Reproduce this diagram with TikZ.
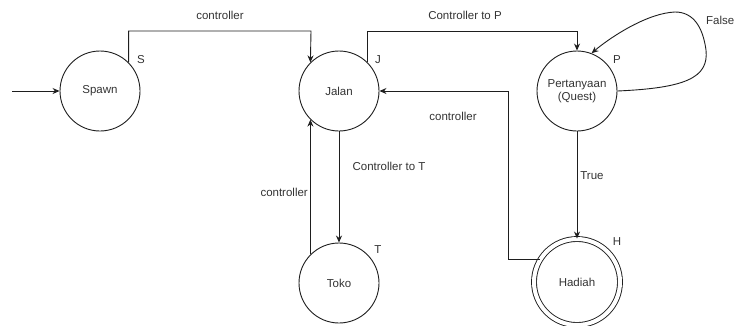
\documentclass[tikz,border=0pt]{standalone}
\usepackage{fontspec}
\setmainfont{Liberation Sans}
\usetikzlibrary{arrows.meta,calc}
\definecolor{txt}{RGB}{51,51,51}
\definecolor{ln}{RGB}{30,30,30}
\begin{document}
\begin{tikzpicture}[x=1pt,y=-1pt,
  every node/.style={font=\fontsize{11.5}{13}\selectfont, text=txt},
  state/.style={circle, draw=ln, line width=0.9pt, minimum size=80pt, inner sep=0pt, align=center},
  accept/.style={state, double=white, double distance=4pt, minimum size=86pt},
  conn/.style={draw=ln, line width=0.9pt, -{Stealth[length=7pt,width=6pt]}},
  lbl/.style={inner sep=1pt}]
\useasboundingbox (0,0) rectangle (736,325);
\node[state] (S) at (100,91) {Spawn};
\node[state] (J) at (339,91) {Jalan};
\node[state] (P) at (577,91) {Pertanyaan\\(Quest)};
\node[state] (T) at (339,283) {Toko};
\node[accept] (H) at (577,282) {Hadiah};
\coordinate (in) at (12,91);
\node[lbl] (lS) at (141,60) {S};
\node[lbl] (lJ) at (378,60) {J};
\node[lbl] (lP) at (617,60) {P};
\node[lbl] (lT) at (378,250) {T};
\node[lbl] (lH) at (617,242) {H};
\node[lbl] (c1) at (220,15) {controller};
\node[lbl] (c2) at (465,15) {Controller to P};
\node[lbl, anchor=west] (c3) at (705,20) {False};
\node[lbl] (c4) at (453,116) {controller};
\node[lbl] (c5) at (389,166) {Controller to T};
\node[lbl, anchor=east] (c6) at (309,192) {controller};
\node[lbl] (c7) at (592,176) {True};
\draw[conn] (in) -- (S);
\draw[conn] (S.45) |- (311,31) -- (J.135);
\draw[conn] (J.45) |- (577,31) -- (P.north);
\draw[conn] (J.south) -- (T.north);
\draw[conn] (T.135) -- (J.225);
\draw[conn] (P.south) -- (H.north);
\draw[conn] (H.148) -| (508,91) -- (J.east);
\draw[conn] (P.east) .. controls (685,88) and (709,78) .. (706,50)
  .. controls (703,28) and (694,12) .. (675,12)
  .. controls (648,13) and (612,36) .. (P.69);
\end{tikzpicture}
\end{document}
